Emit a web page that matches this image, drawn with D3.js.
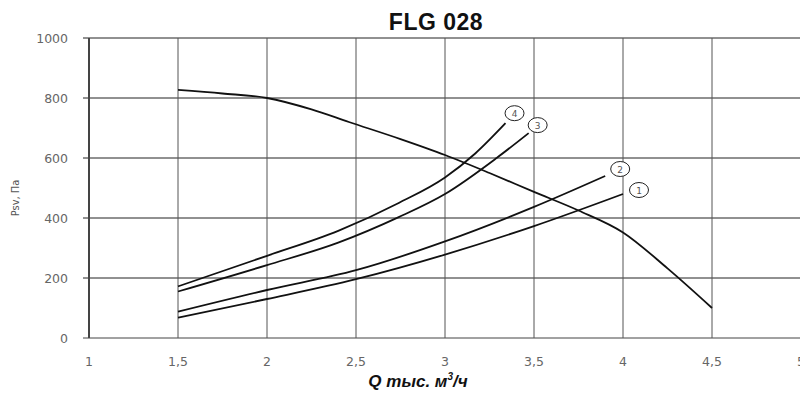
<!DOCTYPE html>
<html>
<head>
<meta charset="utf-8">
<script src="https://cdn.jsdelivr.net/npm/d3@7"></script>
<style>
  body { margin: 0; background: #fff; }
  svg { display: block; }
</style>
</head>
<body>
<script>
// fan curve and 4 network curves, Q in thousands m3/h, Psv in Pa
var fanQ = [1.5, 1.75, 2, 2.25, 2.46, 2.75, 3, 3.25, 3.5, 3.75, 4, 4.25, 4.5];
var fanP = [827, 815, 800, 762, 720, 663, 610, 550, 487, 425, 352, 232, 100];

var c1Q = [1.5, 2, 2.5, 3, 3.5, 4];
var c1P = [68, 130, 196, 278, 373, 480];
var c2Q = [1.5, 2, 2.5, 3, 3.5, 3.9];
var c2P = [88, 160, 226, 322, 437, 540];
var c3Q = [1.5, 2, 2.4, 2.74, 3, 3.29, 3.47];
var c3P = [155, 243, 318, 403, 480, 600, 683];
var c4Q = [1.5, 2, 2.4, 2.74, 3, 3.17, 3.34];
var c4P = [172, 274, 357, 450, 535, 615, 716];
var curveNames = ["1", "2", "3", "4"];

var xTicks = [1, 1.5, 2, 2.5, 3, 3.5, 4, 4.5, 5];
var yTicks = [0, 200, 400, 600, 800, 1000];

var W = 800, H = 398;
var svg = d3.select("body").append("svg").attr("width", W).attr("height", H);

var x = d3.scaleLinear().domain([1, 5]).range([89, 801]);
var y = d3.scaleLinear().domain([0, 1000]).range([338, 38]);

// grid
svg.append("g").selectAll("line").data(yTicks).enter().append("line")
  .attr("x1", 83).attr("x2", W)
  .attr("y1", function(d) { return y(d); }).attr("y2", function(d) { return y(d); })
  .attr("stroke", function(d) { return d == 0 ? "#444" : "#222"; })
  .attr("stroke-width", 1);
svg.append("g").selectAll("line").data(xTicks.slice(1)).enter().append("line")
  .attr("x1", function(d) { return x(d); }).attr("x2", function(d) { return x(d); })
  .attr("y1", y(1000)).attr("y2", y(0))
  .attr("stroke", "#555").attr("stroke-width", 1);
svg.append("line").attr("x1", x(1)).attr("x2", x(1)).attr("y1", y(1000)).attr("y2", y(0))
  .attr("stroke", "#444").attr("stroke-width", 2);

// tick labels
svg.append("g").selectAll("text").data(yTicks).enter().append("text")
  .attr("x", 68).attr("y", function(d) { return y(d) + 5; })
  .attr("text-anchor", "end")
  .attr("font-family", "DejaVu Sans").attr("font-size", "12.5px").attr("fill", "#666")
  .text(function(d) { return d; });
svg.append("g").selectAll("text").data(xTicks).enter().append("text")
  .attr("x", function(d) { return x(d); }).attr("y", 366)
  .attr("text-anchor", "middle")
  .attr("font-family", "DejaVu Sans").attr("font-size", "12.5px").attr("fill", "#666")
  .text(function(d) { return String(d).replace(".", ","); });

var line = d3.line().x(function(d) { return x(d[0]); }).y(function(d) { return y(d[1]); })
  .curve(d3.curveMonotoneX);

function pts(q, p) { return q.map(function(v, i) { return [v, p[i]]; }); }
var curves = [pts(c1Q, c1P), pts(c2Q, c2P), pts(c3Q, c3P), pts(c4Q, c4P)];

svg.append("path").attr("d", line(pts(fanQ, fanP)))
  .attr("fill", "none").attr("stroke", "#111").attr("stroke-width", 1.8);
svg.append("g").selectAll("path").data(curves).enter().append("path")
  .attr("d", line)
  .attr("fill", "none").attr("stroke", "#111").attr("stroke-width", 1.8);

// circle labels at curve ends
var offs = [[16, 4], [15, 7], [9, 8], [9, 10]];
var lab = svg.append("g").selectAll("g").data(curves).enter().append("g")
  .attr("transform", function(d, i) {
    var e = d[d.length - 1];
    return "translate(" + (x(e[0]) + offs[i][0]) + "," + (y(e[1]) - offs[i][1]) + ")";
  });
lab.append("ellipse").attr("rx", 9.5).attr("ry", 7.5)
  .attr("fill", "#fff").attr("stroke", "#222").attr("stroke-width", 1);
lab.append("text").attr("y", 3.5).attr("text-anchor", "middle")
  .attr("font-family", "DejaVu Sans").attr("font-size", "9px").attr("fill", "#555")
  .text(function(d, i) { return curveNames[i]; });

// titles
svg.append("text").attr("x", 436).attr("y", 30).attr("text-anchor", "middle")
  .attr("font-family", "Liberation Sans").attr("font-weight", "bold").attr("font-size", "23px")
  .attr("letter-spacing", "0.5px").attr("fill", "#111")
  .text("FLG 028");
svg.append("text").attr("x", 418).attr("y", 387).attr("text-anchor", "middle")
  .attr("font-family", "Liberation Sans").attr("font-weight", "bold").attr("font-style", "italic")
  .attr("font-size", "17px").attr("fill", "#111")
  .html("Q тыс. м<tspan dy='-7' font-size='10px'>3</tspan><tspan dy='7'>/ч</tspan>");
svg.append("text").attr("transform", "translate(19,198) rotate(-90)")
  .attr("text-anchor", "middle")
  .attr("font-family", "DejaVu Sans Condensed").attr("font-size", "11px").attr("fill", "#555")
  .text("Psv, Па");
</script>
</body>
</html>
